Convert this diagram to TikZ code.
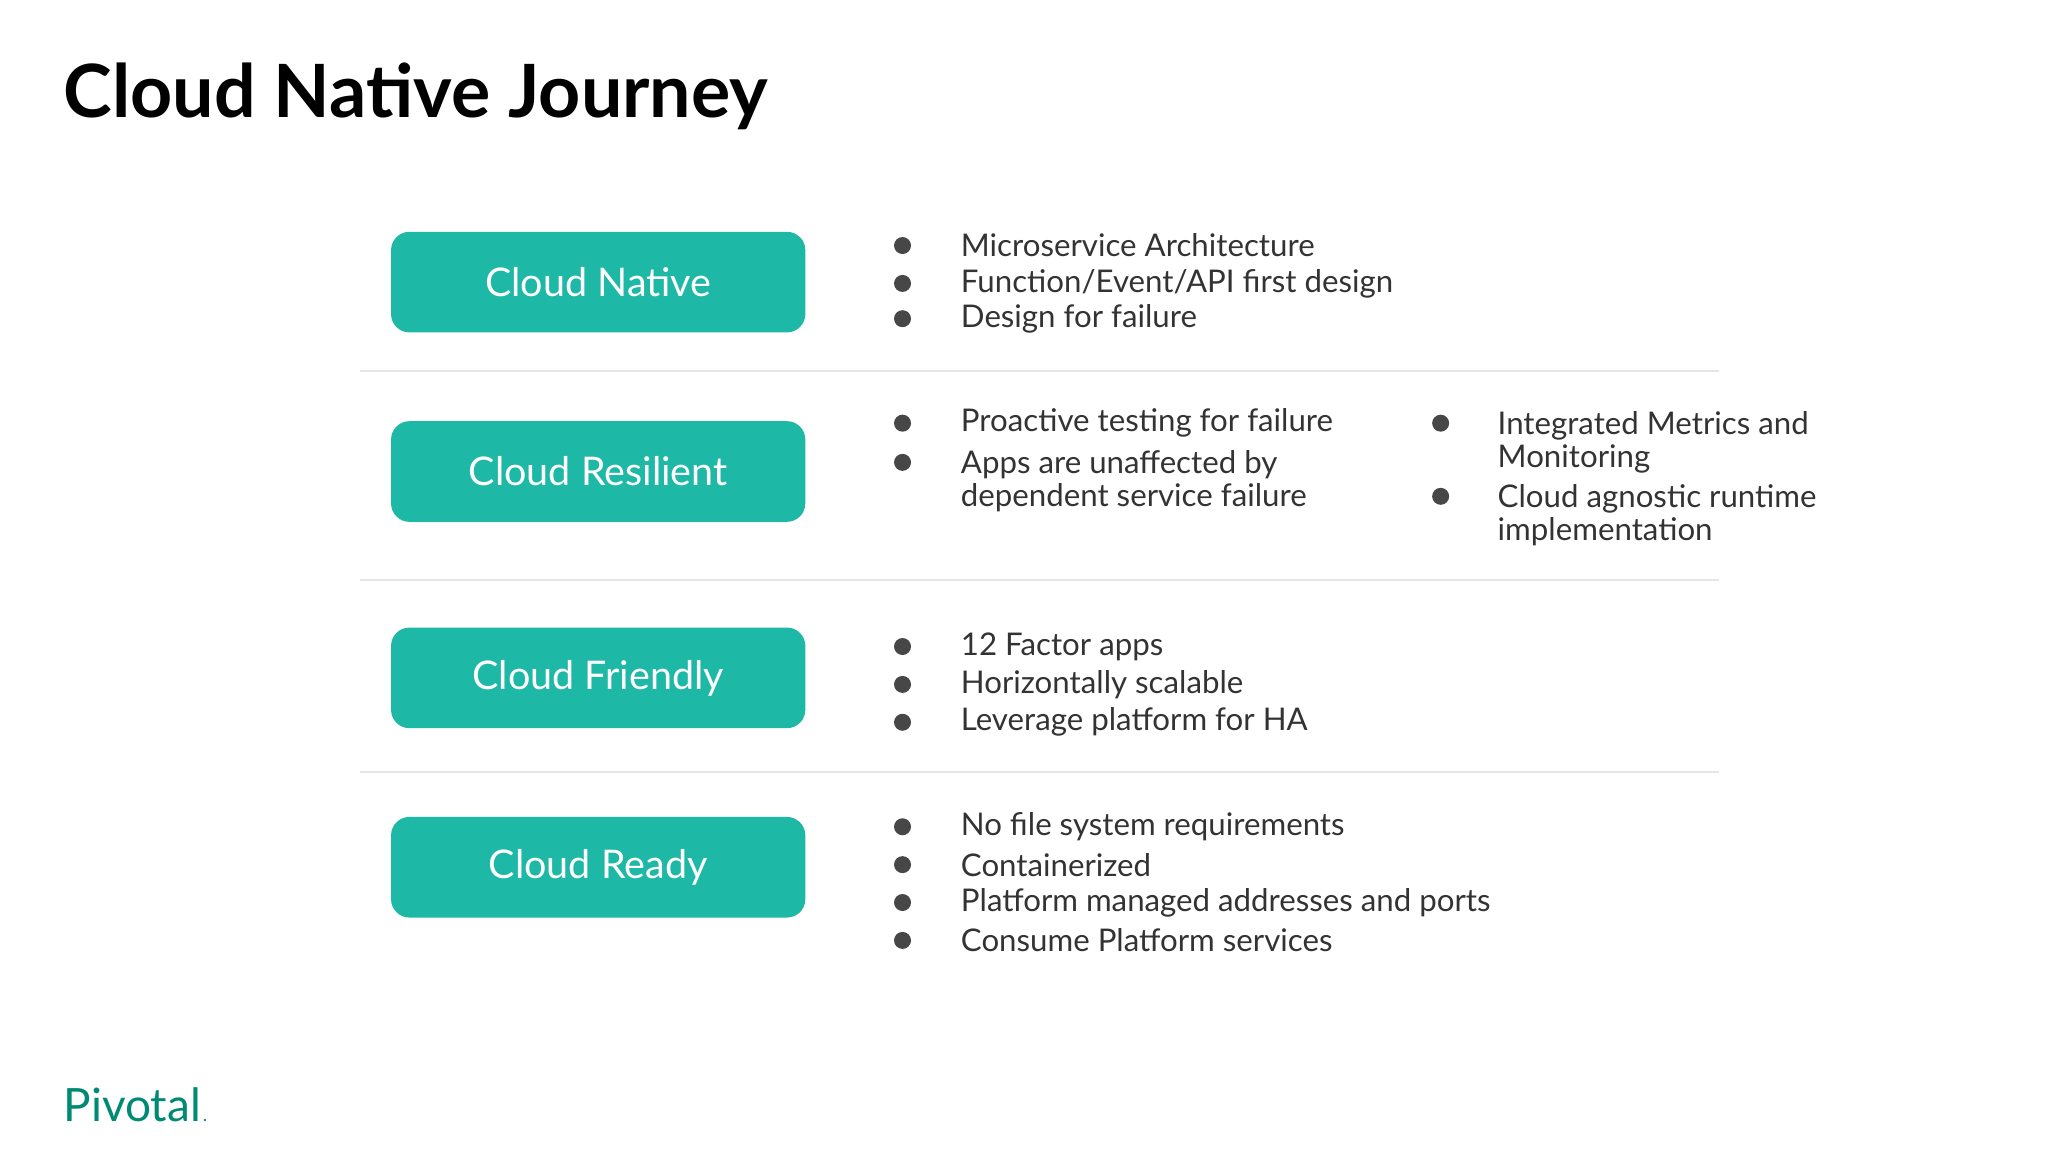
\documentclass[tikz,border=0pt]{standalone}
\usepackage{fontspec}
\setmainfont{Lato}
\definecolor{teal1}{HTML}{1DB8A6}
\definecolor{txt}{HTML}{333333}
\definecolor{sep}{HTML}{E6E6E6}
\definecolor{piv}{HTML}{008A74}
\begin{document}
\begin{tikzpicture}[x=0.01cm,y=-0.01cm,
  box/.style={fill=teal1,rounded corners=4pt,minimum width=3.17cm,minimum height=0.77cm,text=white,font=\fontsize{8.6pt}{10pt}\selectfont,anchor=center},
  item/.style={anchor=west,text=txt,font=\fontsize{6.8pt}{7.3pt}\selectfont,align=left,inner sep=0pt},
  dot/.style={circle,fill=txt!90,inner sep=0pt,minimum size=0.13cm}]
\useasboundingbox (0,0) rectangle (1568,882);
\node[anchor=west,font=\bfseries\fontsize{16pt}{19pt}\selectfont,inner sep=0pt] (title) at (48,74) {Cloud Native Journey};
\foreach \y/\n in {284/s1,444/s2,591/s3}{\draw[sep,line width=0.6pt] (276,\y) coordinate (\n a) -- (1316,\y) coordinate (\n b);}
\node[box] (b1) at (458,216) {Cloud Native};
\node[box] (b2) at (458,361) {Cloud Resilient};
\node[box] (b3) at (458,519) {Cloud Friendly};
\node[box] (b4) at (458,664) {Cloud Ready};
\foreach \y/\t [count=\i] in {188/{Microservice Architecture},217/{Function/Event/API first design},244/{Design for failure},
  495/{12 Factor apps},524/{Horizontally scalable},553/{Leverage platform for HA},
  633/{No file system requirements},662/{Containerized},691/{Platform managed addresses and ports},720/{Consume Platform services}}{
  \node[dot] (d\i) at (691,\y) {};
  \node[item] (t\i) at (735,\y) {\t};}
\node[dot] (e1) at (691,324) {};
\node[item] (u1) at (735,324) {Proactive testing for failure};
\node[dot] (e2) at (691,354) {};
\node[item,anchor=north west] (u2) at (735,344) {Apps are unaffected by\\dependent service failure};
\node[dot] (e3) at (1103,324) {};
\node[item,anchor=north west] (u3) at (1146,314) {Integrated Metrics and\\Monitoring};
\node[dot] (e4) at (1103,380) {};
\node[item,anchor=north west] (u4) at (1146,370) {Cloud agnostic runtime\\implementation};
\node[anchor=west,text=piv,font=\fontsize{10pt}{12pt}\selectfont,inner sep=0pt] (logo) at (48,846) {Pivotal};
\node[anchor=base west,text=piv,font=\fontsize{4pt}{5pt}\selectfont,inner sep=0pt] (ldot) at (logo.base east) {.};
\end{tikzpicture}
\end{document}
